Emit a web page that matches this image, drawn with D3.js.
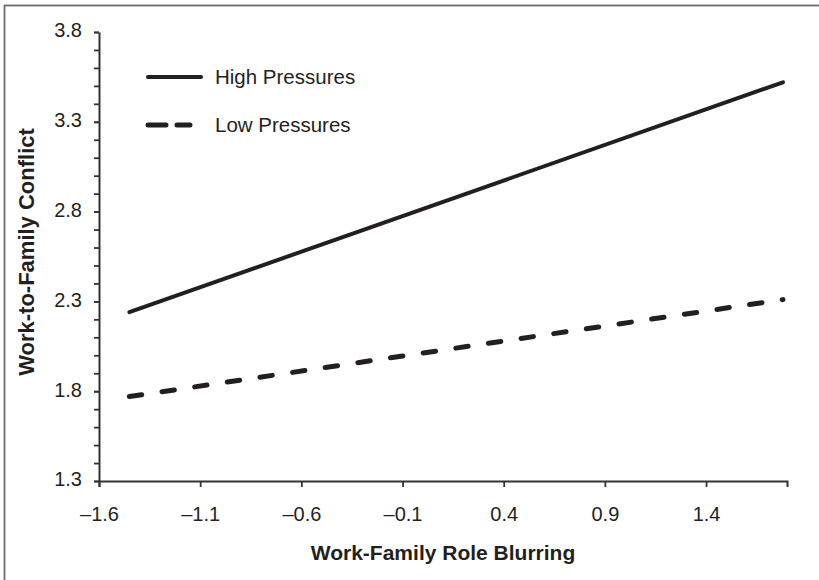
<!DOCTYPE html>
<html>
<head>
<meta charset="utf-8">
<script src="https://cdn.jsdelivr.net/npm/d3@7"></script>
<style>
  body { margin: 0; background: #fff; }
  text { font-family: "Liberation Sans", Arial, sans-serif; fill: #231f20; }
</style>
</head>
<body>
<div class="container"></div>
<script>
// data
const xEnds = [-1.45, 1.78]
const highPressures = [2.24, 3.52]
const lowPressures = [1.77, 2.31]
const xTicks = [-1.6, -1.1, -0.6, -0.1, 0.4, 0.9, 1.4]
const yTicks = [1.3, 1.8, 2.3, 2.8, 3.3, 3.8]
const yMinor = d3.range(13, 39).map(d => d / 10)
const seriesNames = ['High Pressures', 'Low Pressures']

const container = d3.select('.container')
const svg = container.append('svg').attr('width', 819).attr('height', 580)

// outer frame
svg.append('rect')
    .attr('x', 4.5).attr('y', 5.5)
    .attr('width', 830).attr('height', 590)
    .attr('fill', 'none')
    .attr('stroke', '#6d6d6d')
    .attr('stroke-width', 1.8)

var x = d3.scaleLinear().domain([-1.6, 1.8]).range([99, 787]),
    y = d3.scaleLinear().domain([1.3, 3.8]).range([481, 32])

const fmt = d => (d < 0 ? '\u2013' + Math.abs(d).toFixed(1) : d.toFixed(1))
const tickFont = '"Liberation Sans", Arial, sans-serif'

// x axis
var xAxis = svg.append('g')
    .attr('transform', `translate(0,${y(1.3)})`)
    .call(d3.axisBottom(x).tickValues(xTicks).tickSize(6).tickFormat(fmt))
xAxis.select('.domain').attr('stroke', '#333').attr('stroke-width', 2)
xAxis.selectAll('.tick line').attr('stroke', '#333').attr('stroke-width', 1.8)
xAxis.selectAll('.tick text')
    .attr('y', 40).attr('dy', 0)
    .style('font-size', '20px')
    .style('font-family', tickFont)
    .attr('fill', '#231f20')

// y axis, minor ticks first
var yAxisMinor = svg.append('g')
    .attr('transform', `translate(${x(-1.6)},0)`)
    .call(d3.axisLeft(y).tickValues(yMinor).tickSize(5).tickFormat(''))
yAxisMinor.select('.domain').remove()
yAxisMinor.selectAll('.tick line').attr('stroke', '#333').attr('stroke-width', 1.8)

var yAxis = svg.append('g')
    .attr('transform', `translate(${x(-1.6)},0)`)
    .call(d3.axisLeft(y).tickValues(yTicks).tickSize(5).tickSizeOuter(0).tickFormat(d3.format('.1f')))
yAxis.select('.domain').attr('stroke', '#333').attr('stroke-width', 2)
yAxis.selectAll('.tick line').attr('stroke', '#333').attr('stroke-width', 1.8)
yAxis.selectAll('.tick text')
    .attr('x', -17).attr('dy', '0.24em')
    .style('font-size', '20px')
    .style('font-family', tickFont)
    .attr('fill', '#231f20')

// axis titles
svg.append('text')
    .attr('x', (x(-1.6) + x(1.8)) / 2).attr('y', 560)
    .attr('text-anchor', 'middle')
    .style('font-size', '21px').style('font-weight', 'bold')
    .text('Work-Family Role Blurring')

svg.append('text')
    .attr('transform', 'translate(34,252) rotate(-90)')
    .attr('text-anchor', 'middle')
    .style('font-size', '22px').style('font-weight', 'bold')
    .text('Work-to-Family Conflict')

// lines
var line = d3.line().x(d => x(d[0])).y(d => y(d[1]))

svg.append('path')
    .datum(d3.zip(xEnds, highPressures))
    .attr('d', line)
    .attr('fill', 'none')
    .attr('stroke', '#231f20')
    .attr('stroke-width', 4)
    .attr('stroke-linecap', 'round')

svg.append('path')
    .datum(d3.zip(xEnds, lowPressures))
    .attr('d', line)
    .attr('fill', 'none')
    .attr('stroke', '#231f20')
    .attr('stroke-width', 5)
    .attr('stroke-linecap', 'round')
    .attr('stroke-dasharray', '12.5,20.5')

// legend
var legend = svg.append('g')
seriesNames.forEach((name, i) => {
    var ly = 77 + i * 48
    legend.append('line')
        .attr('x1', 148).attr('x2', i === 0 ? 201 : 190)
        .attr('y1', ly).attr('y2', ly)
        .attr('stroke', '#231f20')
        .attr('stroke-width', i === 0 ? 4 : 5)
        .attr('stroke-linecap', 'round')
        .attr('stroke-dasharray', i === 0 ? null : '18,11')
    legend.append('text')
        .attr('x', 215).attr('y', ly + 7)
        .style('font-size', '20.5px')
        .text(name)
})
</script>
</body>
</html>
